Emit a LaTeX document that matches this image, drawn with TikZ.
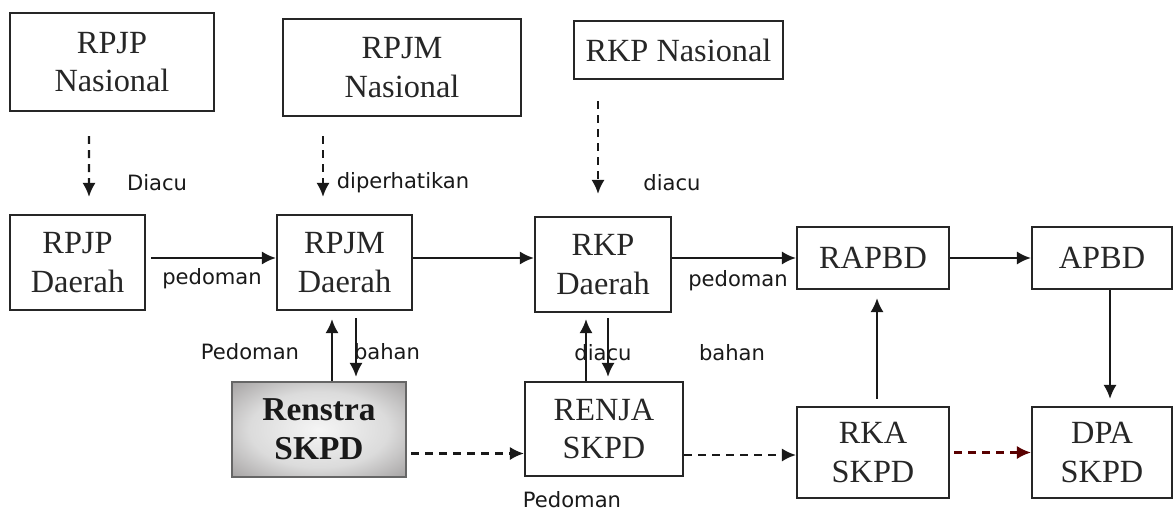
\documentclass[tikz,border=0pt]{standalone}
\usepackage{fontspec}
\setmainfont{Liberation Serif}
\newfontfamily\lblfont{DejaVu Sans}
\usetikzlibrary{calc,arrows.meta}

\pgfdeclareradialshading{renstrashade}{\pgfpoint{0bp}{0bp}}{rgb(0bp)=(0.96,0.96,0.96); rgb(20bp)=(0.86,0.86,0.86); rgb(50bp)=(0.45,0.43,0.43); rgb(72bp)=(0.33,0.31,0.31)}

\tikzset{
  box/.style={draw=black!85, line width=1.2pt, inner sep=0pt, align=center,
    font=\fontsize{18.4}{22}\selectfont, text=black!85},
  lbl/.style={inner sep=0pt, font=\lblfont\fontsize{12}{14}\selectfont, text=black!90},
  arr/.style={draw=black!90, line width=1.3pt, -{Latex[length=8pt,width=7.5pt]}},
  dasharr/.style={arr, dash pattern=on 4.5pt off 3.5pt},
}

\begin{document}
\begin{tikzpicture}[x=0.02cm, y=-0.02cm]
			%%%%% START %%%%%
			\useasboundingbox (0,0) rectangle (1175,513);
			
			% national level
			\node[box, minimum width=4.08cm, minimum height=1.96cm] (rpjpN) at (112,62) {RPJP\\Nasional};
			\node[box, minimum width=4.76cm, minimum height=1.94cm] (rpjmN) at (402,67.5) {RPJM\\Nasional};
			\node[box, minimum width=4.18cm, minimum height=1.16cm] (rkpN) at (678.5,50) {RKP Nasional};
			
			% regional level
			\node[box, minimum width=2.7cm, minimum height=1.9cm] (rpjpD) at (77.5,262.5) {RPJP\\Daerah};
			\node[box, minimum width=2.7cm, minimum height=1.9cm] (rpjmD) at (344.5,262.5) {RPJM\\Daerah};
			\node[box, minimum width=2.72cm, minimum height=1.9cm] (rkpD) at (603,264.5) {RKP\\Daerah};
			\node[box, minimum width=3.04cm, minimum height=1.24cm] (rapbd) at (873,258) {RAPBD};
			\node[box, minimum width=2.8cm, minimum height=1.24cm] (apbd) at (1102,258) {APBD};
			
			% SKPD level
			\node[box, minimum width=3.48cm, minimum height=1.9cm, draw=black!60, shading=renstrashade,
			  font=\bfseries\fontsize{19}{22}\selectfont, text=black!90] (renstra) at (319,429.5) {Renstra\\SKPD};
			\node[box, minimum width=3.16cm, minimum height=1.88cm] (renja) at (604,429) {RENJA\\SKPD};
			\node[box, minimum width=3.04cm, minimum height=1.82cm] (rka) at (873,452.5) {RKA\\SKPD};
			\node[box, minimum width=2.8cm, minimum height=1.82cm] (dpa) at (1102,452.5) {DPA\\SKPD};
			
			% national -> regional
			\draw[dasharr] ($(rpjpN.south)+(-23,24)$) -- ($(rpjpD.north)+(11.5,-17)$);
			\draw[dasharr] ($(rpjmN.south)+(-79,19)$) -- ($(rpjmD.north)+(-21.5,-17)$);
			\draw[dasharr] ($(rkpN.south)+(-80.5,21)$) -- ($(rkpD.north)+(-5,-22)$);
			
			% regional chain
			\draw[arr] ($(rpjpD.east |- rapbd.west)+(5,0)$) -- (rpjmD.west |- rapbd.west);
			\draw[arr] (rpjmD.east |- rapbd.west) -- (rkpD.west |- rapbd.west);
			\draw[arr] (rkpD.east |- rapbd.west) -- (rapbd.west);
			\draw[arr] (rapbd) -- (apbd);
			
			% up and down
			\draw[arr] ($(renstra.north)+(13,0)$) coordinate (pA) -- ($(pA |- rpjmD.south)+(0,8)$);
			\draw[arr] ($(rpjmD.south)+(11.5,7)$) coordinate (pB) -- ($(pB |- renstra.north)+(0,-4)$);
			\draw[arr] ($(renja.north)+(-18,0)$) coordinate (pC) -- ($(pC |- rkpD.south)+(0,6)$);
			\draw[arr] ($(rkpD.south)+(5,5)$) coordinate (pD) -- ($(pD |- renja.north)+(0,-4)$);
			\draw[arr] ($(rka.north)+(4,-7)$) coordinate (pE) -- ($(pE |- rapbd.south)+(0,8)$);
			\draw[arr] ($(apbd.south)+(8,0)$) coordinate (pF) -- ($(pF |- dpa.north)+(0,-7)$);
			
			% SKPD chain
			\draw[dasharr] ($(renstra.east)+(4,24)$) coordinate (pG) -- (pG -| renja.west);
			\draw[dasharr] ($(renja.east)+(0,26)$) coordinate (pH) -- (pH -| rka.west);
			\draw[dasharr, draw=red!35!black] ($(rka.east)+(4,0)$) -- (dpa.west);
			
			% labels
			\node[lbl] (tDiacu) at (157,183) {Diacu};
			\node[lbl] (tDiperhatikan) at (403,183) {diperhatikan};
			\node[lbl] (tDiacuN) at (672,183) {diacu};
			\node[lbl] (tPedomanA) at (212,279) {pedoman};
			\node[lbl] (tPedomanB) at (738,281) {pedoman};
			\node[lbl] (tPedomanC) at (250,352) {Pedoman};
			\node[lbl] (tBahanA) at (387,352) {bahan};
			\node[lbl] (tDiacuD) at (603,353) {diacu};
			\node[lbl] (tBahanB) at (732,353) {bahan};
			\node[lbl] (tPedomanD) at (572,500) {Pedoman};
			
			%%%%% END %%%%%
\end{tikzpicture}
\end{document}
